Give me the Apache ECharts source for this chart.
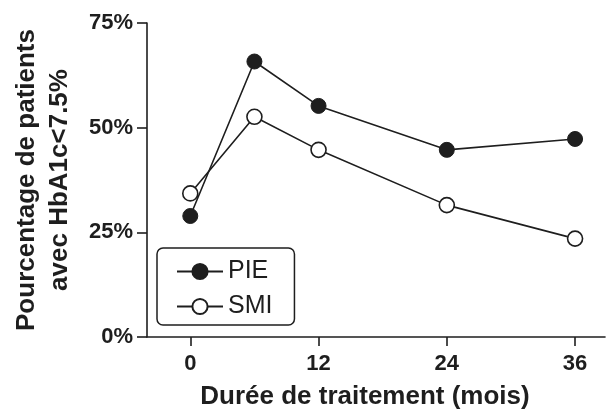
<!DOCTYPE html>
<html>
<head>
<meta charset="utf-8">
<script src="https://cdn.jsdelivr.net/npm/echarts@6/dist/echarts.min.js"></script>
<style>html,body{margin:0;padding:0;background:#fff}#c{width:611px;height:411px}</style>
</head>
<body>
<div id="c"></div>
<script>
const months = [0, 6, 12, 24, 36];
const pieValues = [28.9, 65.8, 55.2, 44.7, 47.3];
const smiValues = [34.3, 52.6, 44.7, 31.5, 23.5];
const xTickValues = [0, 12, 24, 36];
const seriesNames = ['PIE', 'SMI'];
const xTitle = 'Durée de traitement (mois)';
const yTitle = 'Pourcentage de patients\navec HbA1c<7.5%';

const FONT = '"Liberation Sans", Arial, Helvetica, sans-serif';
const INK = '#1e1e1e';
const chart = echarts.init(document.getElementById('c'), null, {renderer: 'canvas'});
const pair = (vals) => months.map((m, i) => [m, vals[i]]);
chart.setOption({
  animation: false,
  backgroundColor: '#fff',
  grid: {left: 147, right: 6, top: 23, bottom: 74, containLabel: false, outerBoundsMode: 'none'},
  legend: {
    orient: 'vertical',
    left: 157, top: 248,
    data: seriesNames,
    itemWidth: 46, itemHeight: 19, itemGap: 10,
    padding: [11, 22, 6, 19],
    borderColor: INK, borderWidth: 1.5, borderRadius: 6,
    textStyle: {fontFamily: FONT, fontSize: 25, color: INK, lineHeight: 25}
  },
  xAxis: {
    type: 'value', min: -4.05, max: 38.8,
    splitLine: {show: false},
    axisLine: {onZero: false, lineStyle: {color: INK, width: 1.6}},
    axisTick: {length: 9, lineStyle: {color: INK, width: 1.6}, customValues: xTickValues},
    axisLabel: {fontFamily: FONT, fontSize: 22, fontWeight: 'bold', color: INK, margin: 16, customValues: xTickValues},
    name: xTitle, nameLocation: 'middle', nameGap: 47,
    nameTextStyle: {fontFamily: FONT, fontSize: 26, fontWeight: 'bold', color: INK, padding: [0, 22, 0, 0]}
  },
  yAxis: {
    type: 'value', min: 0, max: 75, interval: 25,
    splitLine: {show: false},
    axisLine: {show: true, onZero: false, lineStyle: {color: INK, width: 1.6}},
    axisTick: {show: true, length: 10, lineStyle: {color: INK, width: 1.6}},
    axisLabel: {fontFamily: FONT, fontSize: 22, fontWeight: 'bold', color: INK, margin: 14, formatter: '{value}%'},
    name: yTitle, nameLocation: 'middle', nameGap: 71, nameRotate: 90,
    nameTextStyle: {fontFamily: FONT, fontSize: 26, fontWeight: 'bold', color: INK, lineHeight: 33}
  },
  series: [
    {name: seriesNames[0], type: 'line', data: pair(pieValues), symbol: 'circle', symbolSize: 15,
     lineStyle: {color: INK, width: 1.6}, itemStyle: {color: INK, borderColor: INK, borderWidth: 1}, z: 3},
    {name: seriesNames[1], type: 'line', data: pair(smiValues), symbol: 'circle', symbolSize: 15,
     lineStyle: {color: INK, width: 1.6}, itemStyle: {color: '#fff', borderColor: INK, borderWidth: 1.6}, z: 2}
  ]
});
</script>
</body>
</html>
